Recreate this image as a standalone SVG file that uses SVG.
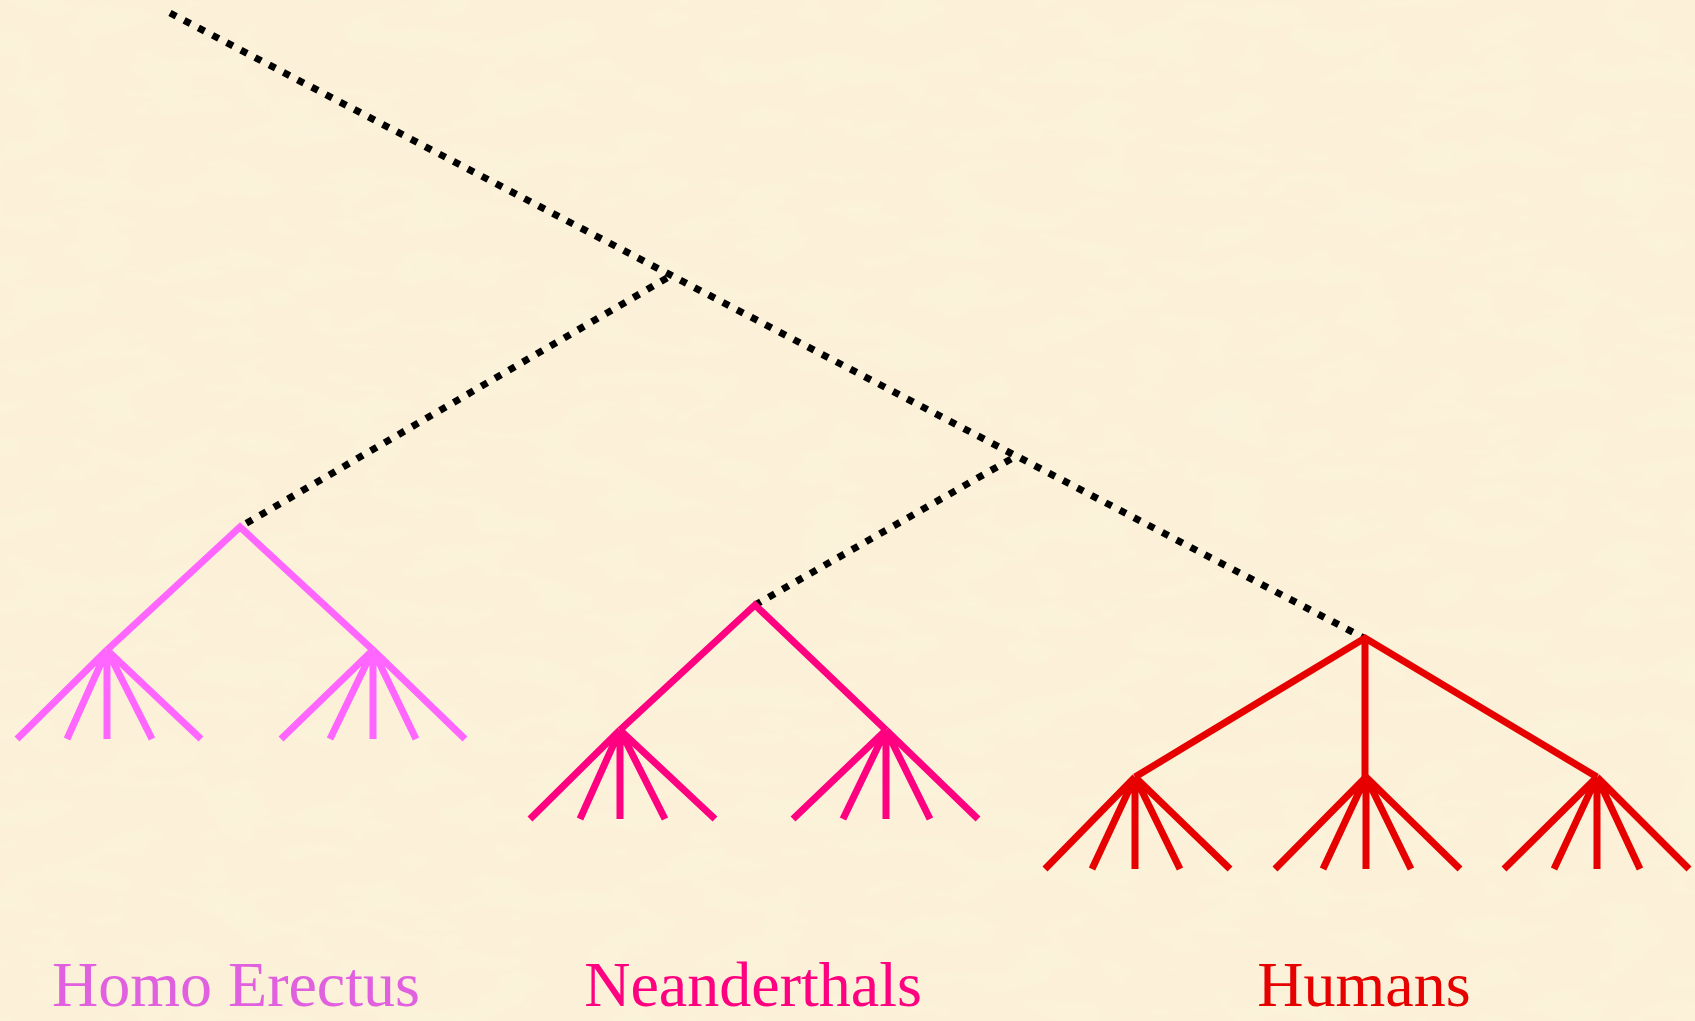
<svg xmlns="http://www.w3.org/2000/svg" width="1695" height="1021" viewBox="0 0 1695 1021">
  <defs>
    <filter id="paper" x="0" y="0" width="100%" height="100%">
      <feTurbulence type="fractalNoise" baseFrequency="0.015 0.035" numOctaves="3" seed="7" result="noise"/>
      <feColorMatrix in="noise" type="matrix" values="0 0 0 0 0.94  0 0 0 0 0.91  0 0 0 0 0.72  0 0 0 1.1 -0.45" result="tint"/>
      <feComposite in="tint" in2="SourceGraphic" operator="over"/>
    </filter>
  </defs>
  <style>
    .dotted { fill: none; stroke: #000; stroke-width: 7; stroke-dasharray: 7 9; }
    .branch { fill: none; stroke-width: 7; stroke-linecap: butt; }
    .erectus { stroke: #FF66FF; }
    .neander { stroke: #FF0080; }
    .human { stroke: #E60000; }
    .label { font-family: "Liberation Serif", "Times New Roman", serif; font-size: 64px; text-anchor: middle; }
  </style>

  <!-- paper background -->
  <rect width="1695" height="1021" fill="#FCF1D8" filter="url(#paper)"/>

  <!-- dotted ancestry lines -->
  <g id="connectors">
    <line class="dotted" x1="170" y1="13" x2="1364" y2="638"/>
    <line class="dotted" x1="667" y1="278" x2="240" y2="527"/>
    <line class="dotted" x1="1011" y1="459" x2="755" y2="605"/>
  </g>

  <!-- Homo Erectus clade -->
  <g id="homo-erectus" class="branch erectus">
    <path d="M107 650 L240 527 L373 650"/>
    <path d="M107 650 L17 739 M107 650 L67 739 M107 650 L107 739 M107 650 L152 739 M107 650 L201 739"/>
    <path d="M373 650 L281 739 M373 650 L330 739 M373 650 L373 739 M373 650 L416 739 M373 650 L465 739"/>
    <text class="label" x="236" y="1006" fill="#E060E0" stroke="none">Homo Erectus</text>
  </g>

  <!-- Neanderthals clade -->
  <g id="neanderthals" class="branch neander">
    <path d="M620 730 L755 605 L886 730"/>
    <path d="M620 730 L530 819 M620 730 L580 819 M620 730 L620 819 M620 730 L665 819 M620 730 L715 819"/>
    <path d="M886 730 L793 819 M886 730 L843 819 M886 730 L886 819 M886 730 L930 819 M886 730 L978 819"/>
    <text class="label" x="753" y="1006" fill="#FF0080" stroke="none">Neanderthals</text>
  </g>

  <!-- Humans clade -->
  <g id="humans" class="branch human">
    <path d="M1135 777 L1365 638 L1597 777 M1365 638 L1365 777"/>
    <path d="M1135 777 L1045 869 M1135 777 L1092 869 M1135 777 L1135 869 M1135 777 L1180 869 M1135 777 L1230 869"/>
    <path d="M1366 777 L1275 869 M1366 777 L1323 869 M1366 777 L1366 869 M1366 777 L1411 869 M1366 777 L1460 869"/>
    <path d="M1597 777 L1504 869 M1597 777 L1554 869 M1597 777 L1597 869 M1597 777 L1640 869 M1597 777 L1689 869"/>
    <text class="label" x="1364" y="1006" fill="#E60000" stroke="none">Humans</text>
  </g>
</svg>
